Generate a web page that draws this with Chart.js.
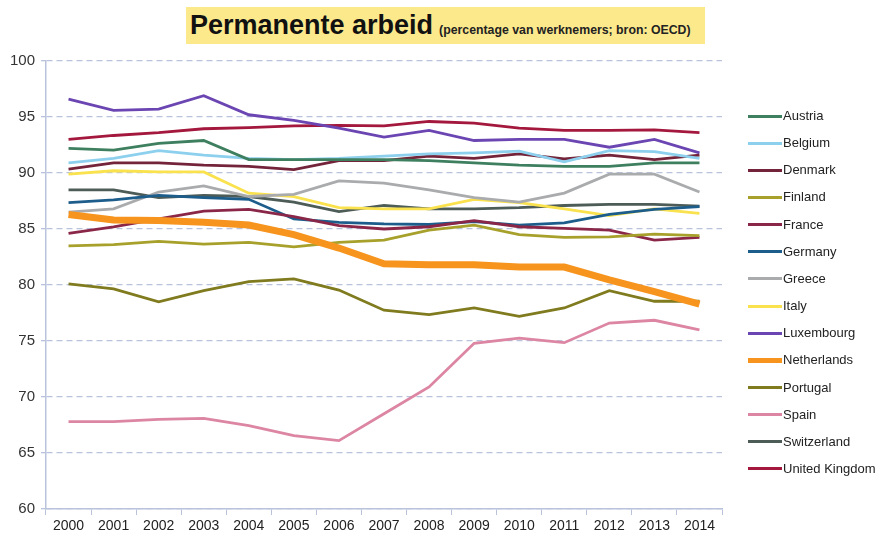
<!DOCTYPE html>
<html>
<head>
<meta charset="utf-8">
<script src="https://cdn.jsdelivr.net/npm/chart.js@4"></script>
<style>
  html, body { margin:0; padding:0; background:#fff; }
  #wrap { position:relative; width:882px; height:535px; font-family:"Liberation Sans", Arial, sans-serif; }
  #c { position:absolute; left:0; top:0; }
  #title { position:absolute; left:186px; top:7px; width:519px; height:37px; background:#fce98c; box-sizing:border-box; padding-left:4px; white-space:nowrap; }
  #title .main { font-weight:bold; font-size:27px; color:#111; line-height:37px; }
  #title .sub { font-weight:bold; font-size:12.3px; color:#222; margin-left:6px; }
  #legend { position:absolute; left:748px; top:0; }
  .li { position:absolute; left:0; white-space:nowrap; font-size:13px; color:#222; }
  .li .ln { position:absolute; left:0; width:34px; }
  .li .tx { position:absolute; left:35px; top:-8px; line-height:16px; }
</style>
</head>
<body>
<div id="wrap">
  <canvas id="c" width="882" height="535"></canvas>
  <div id="title"><span class="main">Permanente arbeid</span><span class="sub">(percentage van werknemers; bron: OECD)</span></div>
  <div id="legend"></div>
</div>
<script>
const years = ["2000","2001","2002","2003","2004","2005","2006","2007","2008","2009","2010","2011","2012","2013","2014"];
const yTicks = [60,65,70,75,80,85,90,95,100];

const austria     = [92.2,92.05,92.65,92.9,91.2,91.2,91.2,91.2,91.1,90.9,90.7,90.6,90.6,90.9,90.9];
const belgium     = [90.9,91.3,92.0,91.6,91.3,91.2,91.3,91.5,91.7,91.8,91.95,91.0,92.0,91.9,91.3];
const denmark     = [90.35,90.9,90.9,90.7,90.6,90.3,91.1,91.1,91.5,91.3,91.7,91.25,91.6,91.2,91.6];
const finland     = [83.5,83.6,83.9,83.65,83.8,83.4,83.8,84.0,84.9,85.35,84.5,84.25,84.3,84.55,84.4];
const france      = [84.6,85.2,85.9,86.6,86.75,86.1,85.3,85.0,85.2,85.75,85.2,85.05,84.9,84.0,84.25];
const germany     = [87.35,87.6,88.0,87.8,87.65,85.9,85.6,85.45,85.4,85.65,85.35,85.55,86.3,86.75,87.0];
const greece      = [86.5,86.8,88.3,88.85,87.9,88.1,89.3,89.1,88.5,87.8,87.4,88.2,89.9,89.9,88.3];
const italy       = [89.9,90.2,90.1,90.1,88.2,87.9,86.9,86.8,86.8,87.65,87.35,86.8,86.2,86.8,86.4];
const luxembourg  = [96.6,95.6,95.7,96.9,95.2,94.7,94.0,93.2,93.8,92.9,93.0,93.0,92.3,93.0,91.8];
const netherlands = [86.3,85.8,85.75,85.6,85.35,84.5,83.3,81.9,81.8,81.8,81.6,81.6,80.45,79.4,78.3];
const portugal    = [80.1,79.65,78.5,79.5,80.3,80.55,79.55,77.75,77.35,77.95,77.2,77.95,79.5,78.55,78.55];
const spain       = [67.8,67.8,68.0,68.1,67.45,66.55,66.1,68.5,70.9,74.8,75.25,74.85,76.6,76.85,76.0];
const switzerland = [88.5,88.5,87.8,88.0,87.9,87.4,86.55,87.1,86.8,86.8,86.9,87.1,87.2,87.2,87.05];
const uk          = [93.0,93.35,93.6,93.95,94.05,94.2,94.25,94.2,94.6,94.45,94.0,93.8,93.8,93.85,93.6];

const series = [
  {name:"Austria", data:austria, color:"#3d7f5e", w:2.8},
  {name:"Belgium", data:belgium, color:"#8dd0ee", w:2.8},
  {name:"Denmark", data:denmark, color:"#74243a", w:2.8},
  {name:"Finland", data:finland, color:"#a7a12c", w:2.8},
  {name:"France", data:france, color:"#8a2748", w:2.8},
  {name:"Germany", data:germany, color:"#1c5d8c", w:2.8},
  {name:"Greece", data:greece, color:"#a9abad", w:2.8},
  {name:"Italy", data:italy, color:"#f9e24d", w:2.8},
  {name:"Luxembourg", data:luxembourg, color:"#6b46b3", w:2.8},
  {name:"Netherlands", data:netherlands, color:"#f7941e", w:7},
  {name:"Portugal", data:portugal, color:"#7f7b1e", w:2.8},
  {name:"Spain", data:spain, color:"#dc86a3", w:2.8},
  {name:"Switzerland", data:switzerland, color:"#4d5c57", w:2.8},
  {name:"United Kingdom", data:uk, color:"#a3183c", w:2.8}
];

// HTML legend
const leg = document.getElementById('legend');
series.forEach((s,i) => {
  const y = 116 + i*27.15;
  const d = document.createElement('div');
  d.className = 'li';
  d.style.top = y + 'px';
  const ln = document.createElement('div');
  ln.className = 'ln';
  const h = s.w > 4 ? 5 : 3;
  ln.style.height = h + 'px';
  ln.style.top = (-h/2) + 'px';
  ln.style.background = s.color;
  const tx = document.createElement('div');
  tx.className = 'tx';
  tx.textContent = s.name;
  d.appendChild(ln); d.appendChild(tx);
  leg.appendChild(d);
});

const axisCol = "#b9c3dc";
new Chart(document.getElementById('c'), {
  type: 'line',
  data: {
    labels: years,
    datasets: series.map((s, i) => ({
      label: s.name,
      data: s.data,
      borderColor: s.color,
      backgroundColor: s.color,
      borderWidth: s.w,
      pointRadius: 0,
      tension: 0,
      fill: false,
      order: s.name === "Netherlands" ? 0 : i + 1
    }))
  },
  options: {
    responsive: false,
    animation: false,
    layout: { padding: { top: 61, right: 160, left: 0, bottom: 0 } },
    plugins: { legend: { display: false }, tooltip: { enabled: false } },
    scales: {
      x: {
        offset: true,
        grid: { offset: true, drawOnChartArea: false, drawTicks: true, tickLength: 6, color: axisCol },
        border: { color: axisCol, width: 1.5 },
        ticks: { color: "#222", font: { family: "Liberation Sans", size: 14 }, padding: 3, maxRotation: 0, autoSkip: false },
        afterFit: (a) => { a.height = 26; }
      },
      y: {
        min: 60, max: 100,
        afterBuildTicks: (a) => { a.ticks = yTicks.map(v => ({ value: v })); },
        grid: { color: axisCol, lineWidth: 1.3, tickLength: 5 },
        border: { color: axisCol, width: 1.5, dash: [6, 4] },
        ticks: { color: "#333", font: { family: "Liberation Sans", size: 15 }, padding: 6 },
        afterFit: (a) => { a.width = 46; }
      }
    }
  }
});
</script>
</body>
</html>
